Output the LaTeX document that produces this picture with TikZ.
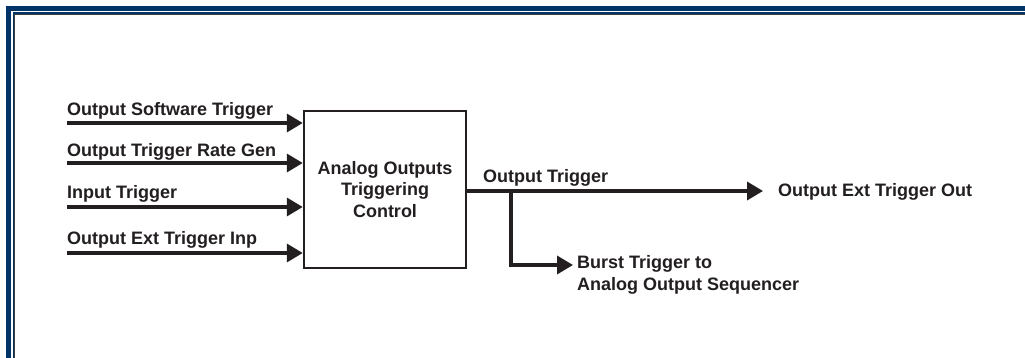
\documentclass[tikz,border=0pt]{standalone}
\usepackage{fontspec}
\setmainfont{Liberation Sans}
\usetikzlibrary{arrows.meta}
\definecolor{navy}{HTML}{003366}
\definecolor{ink}{HTML}{231F20}
\begin{document}
\begin{tikzpicture}[x=1pt,y=-1pt,
  lbl/.style={font=\bfseries\fontsize{18}{21.5}\selectfont, text=ink, inner sep=0pt},
  sig/.style={line width=3.5pt, draw=ink, -{Triangle[length=16pt,width=18pt]}},
  wire/.style={line width=3.5pt, draw=ink}]
\useasboundingbox (0,0) rectangle (1025,358);
\fill[white] (0,0) rectangle (1025,358);
% frame
\fill[navy] (6,6) rectangle (1025,11);
\fill[navy] (6,6) rectangle (11,358);
\fill[navy] (12.5,12.5) rectangle (1025,14);
\fill[navy] (12.5,12.5) rectangle (14,358);
\fill[black!75] (14,14) rectangle (1025,15);
\fill[black!75] (14,14) rectangle (15,358);
% box
\node[draw=ink, line width=2.5pt, minimum width=162pt, minimum height=157pt, inner sep=0pt,
  align=center, lbl] (ctl) at (385,189.5) {Analog Outputs\\Triggering\\Control};
% inputs
\coordinate (i1) at (67,123);
\coordinate (i2) at (67,163);
\coordinate (i3) at (67,207);
\coordinate (i4) at (67,253);
\draw[sig] (i1) -- (ctl.west |- i1);
\draw[sig] (i2) -- (ctl.west |- i2);
\draw[sig] (i3) -- (ctl.west |- i3);
\draw[sig] (i4) -- (ctl.west |- i4);
\node[lbl, anchor=west] (l1) at (67,111) {Output Software Trigger};
\node[lbl, anchor=west] (l2) at (67,152) {Output Trigger Rate Gen};
\node[lbl, anchor=west] (l3) at (67,194) {Input Trigger};
\node[lbl, anchor=west] (l4) at (67,240) {Output Ext Trigger Inp};
% output
\coordinate (o) at (ctl.east |- 0,191);
\coordinate (br) at (511,191);
\coordinate (brd) at (511,265);
\node[lbl, anchor=west] (ext) at (778,192) {Output Ext Trigger Out};
\node[lbl, anchor=west] (ot) at (483,178) {Output Trigger};
\node[lbl, anchor=north west, align=left] (burst) at (577,255.5) {Burst Trigger to\\Analog Output Sequencer};
\coordinate (et) at (763,191);
\coordinate (bt) at (573,265);
\draw[sig] (o) -- (et);
\draw[wire] (br) -- (brd);
\draw[sig] ([xshift=-1.75pt]brd) -- (bt);
\end{tikzpicture}
\end{document}
